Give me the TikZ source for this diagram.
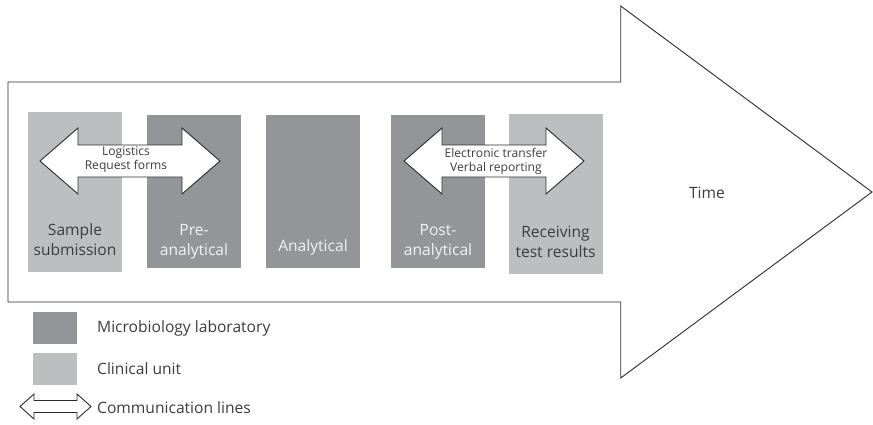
\documentclass[tikz,border=0pt]{standalone}
\usepackage{fontspec}
\setmainfont{Open Sans}
\definecolor{labgray}{HTML}{939598}
\definecolor{clingray}{HTML}{BCBEC0}
\definecolor{inkline}{HTML}{2B2B2B}
\definecolor{darktext}{HTML}{3C3C3C}
\definecolor{lighttext}{HTML}{F2F2F2}

% two-headed communication arrow: centre x, centre y, half length, head length, half head width, half shaft width
\newcommand\commarrow[6]{%
  \draw[commline]
    ({#1-#3},#2) -- ({#1-#3+#4},{#2-#5}) -- ({#1-#3+#4},{#2-#6})
    -- ({#1+#3-#4},{#2-#6}) -- ({#1+#3-#4},{#2-#5}) -- ({#1+#3},#2)
    -- ({#1+#3-#4},{#2+#5}) -- ({#1+#3-#4},{#2+#6})
    -- ({#1-#3+#4},{#2+#6}) -- ({#1-#3+#4},{#2+#5}) -- cycle;}

\tikzset{
  phase/.style={draw=none, inner sep=0pt, minimum width=94pt},
  labphase/.style={phase, fill=labgray, minimum height=153pt},
  clinphase/.style={phase, fill=clingray, minimum height=160pt},
  phasetext/.style={align=center, font=\fontsize{15.6}{20}\selectfont, inner sep=0pt},
  ondark/.style={phasetext, text=lighttext},
  onlight/.style={phasetext, text=darktext},
  commline/.style={draw=inkline, fill=white, line width=0.9pt, line join=miter},
  commtext/.style={align=center, font=\fontsize{12.1}{14}\selectfont, text=darktext, inner sep=0pt},
  legendtext/.style={anchor=west, font=\fontsize{15.6}{18}\selectfont, text=darktext, inner sep=0pt},
  legendbox/.style={draw=none, inner sep=0pt, minimum width=44pt, minimum height=32pt},
}

\begin{document}
\begin{tikzpicture}[x=1pt, y=-1pt]
\useasboundingbox (0,0) rectangle (873,424);

% the time arrow
\draw[draw=inkline, fill=white, line width=0.9pt]
  (8,82) -- (620.7,82) -- (620.7,6) -- (872,192) -- (620.7,378)
  -- (620.7,302) -- (8,302) -- cycle;
\node[font=\fontsize{15.6}{18}\selectfont, text=darktext, inner sep=0pt] (time) at (707,193) {Time};

% phases
\node[clinphase] (sample) at (75,192) {};
\node[labphase]  (pre)    at (194,191.5) {};
\node[labphase]  (ana)    at (313,191.5) {};
\node[labphase]  (post)   at (438,191.5) {};
\node[clinphase] (recv)   at (555.5,194) {};

\node[onlight] (sampletxt) at (75,240) {Sample\\submission};
\node[ondark]  (pretxt)    at (194,242) {Pre-\\analytical};
\node[ondark]  (anatxt)    at (313,247) {Analytical};
\node[ondark]  (posttxt)   at (438,242) {Post-\\analytical};
\node[onlight] (recvtxt)   at (555.5,242) {Receiving\\test results};

% communication between clinical unit and laboratory
\commarrow{130}{161}{90}{38}{33}{16}
\node[commtext] (logi) at (126,160) {Logistics\\Request forms};
\commarrow{494}{161}{90}{38}{33}{16}
\node[commtext] (report) at (496,161) {Electronic transfer\\Verbal reporting};

% legend
\node[legendbox, fill=labgray]  (keylab)  at (55,327.5) {};
\node[legendbox, fill=clingray] (keyclin) at (55,369) {};
\node[legendtext] (keylabtxt)  at (97,328) {Microbiology laboratory};
\node[legendtext] (keyclintxt) at (97,369) {Clinical unit};
\commarrow{55.5}{406.5}{35.5}{14}{12.5}{6}
\node[legendtext] (keycommtxt) at (97,408) {Communication lines};
\end{tikzpicture}
\end{document}
